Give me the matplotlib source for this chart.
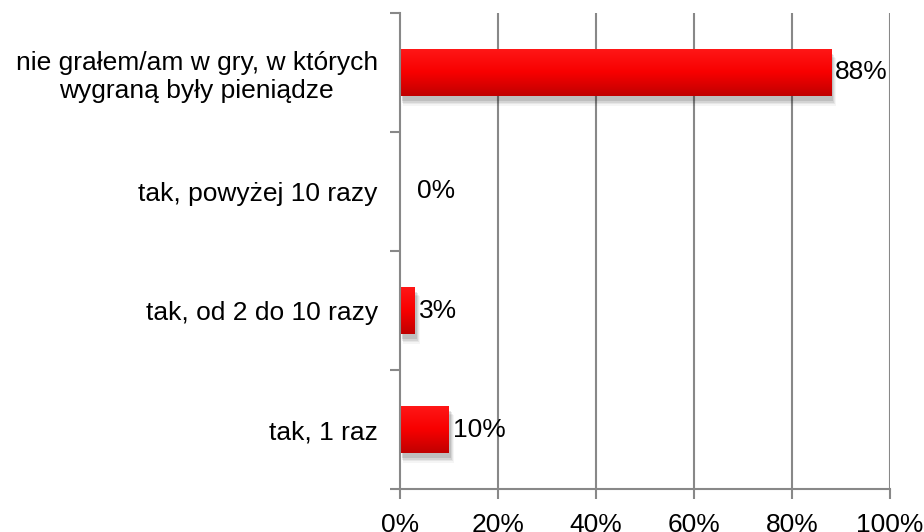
import numpy as np
import matplotlib
matplotlib.use("Agg")
import matplotlib.pyplot as plt
from matplotlib.ticker import FuncFormatter
from matplotlib.colors import LinearSegmentedColormap

plt.rcParams['font.family'] = ['Liberation Sans', 'DejaVu Sans']

categories = ["tak, 1 raz", "tak, od 2 do 10 razy", "tak, powyżej 10 razy",
              "nie grałem/am w gry, w których\nwygraną były pieniądze"]
values = [10, 3, 0, 88]
value_labels = ["10%", "3%", "0%", "88%"]
x_ticks = [0, 20, 40, 60, 80, 100]

fig = plt.figure(figsize=(9.24, 5.32), dpi=100)
ax = fig.add_axes([0.4329, 0.0808, 0.9632 - 0.4329, 0.9756 - 0.0808])

grid_c = '#888888'
ypos = np.arange(len(categories))
h = 0.4
fs = 19

# grid
for xv in x_ticks[1:]:
    ax.axvline(xv, color=grid_c, lw=1.5, zorder=0)

grad = np.linspace(0, 1, 256).reshape(-1, 1)
cmap = LinearSegmentedColormap.from_list('rg', ['#ff1818', '#f80000', '#c00000'])

for y, v in zip(ypos, values):
    if v <= 0:
        continue
    # soft shadow
    for k, a in enumerate([0.10, 0.08, 0.06, 0.04]):
        d = 0.012 * (k + 1)
        ax.add_patch(plt.Rectangle((0.2 + d * 10, y - h / 2 - 0.03 - d), v + d * 8, h,
                                   color='black', alpha=a, lw=0, zorder=1))
    bars = ax.barh(y, v, height=h, color='#e00000', zorder=2, lw=0)
    im = ax.imshow(grad, cmap=cmap, aspect='auto',
                   extent=(0, v, y - h / 2, y + h / 2), origin='upper', zorder=3)
    im.set_clip_path(bars[0])

for y, v, lab in zip(ypos, values, value_labels):
    ax.annotate(lab, (v, y), xytext=(3 if v > 0 else 12, 0), textcoords='offset points',
                ha='left', va='center', fontsize=fs, color='black', zorder=5)

ax.set_xlim(0, 100)
ax.set_ylim(-0.5, len(categories) - 0.5)
ax.set_xticks(x_ticks)
ax.xaxis.set_major_formatter(FuncFormatter(lambda x, p: f"{int(x)}%"))
ax.set_yticks(ypos)
ax.set_yticklabels(categories)
for t in ax.get_yticklabels():
    t.set_multialignment('center')
ax.set_yticks(np.arange(-0.5, len(categories), 1), minor=True)
ax.tick_params(axis='y', which='major', length=0, pad=16, labelsize=fs)
ax.tick_params(axis='y', which='minor', length=7, width=1.5, color=grid_c)
ax.tick_params(axis='x', which='major', length=7, width=1.5, color=grid_c, pad=10, labelsize=fs)
ax.tick_params(axis='x', which='minor', length=0)

for s in ['top', 'right']:
    ax.spines[s].set_visible(False)
for s in ['left', 'bottom']:
    ax.spines[s].set_color(grid_c)
    ax.spines[s].set_linewidth(1.5)
ax.spines['left'].set_zorder(4)

fig.savefig('out.png', dpi=100)
